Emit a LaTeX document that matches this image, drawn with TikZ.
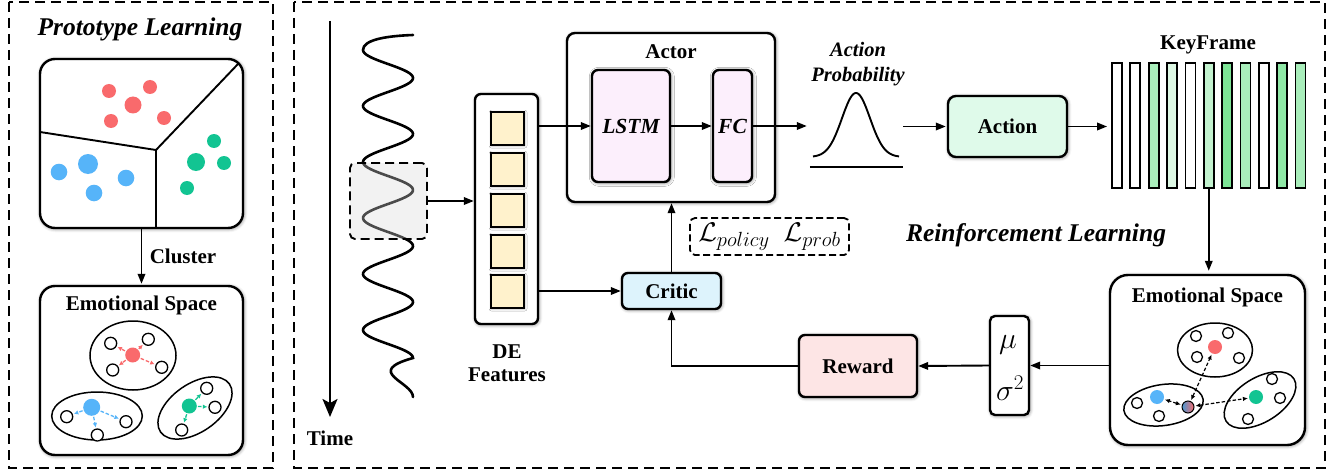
\RequirePackage{fix-cm}
\documentclass[tikz,border=0pt]{standalone}
\usepackage{fontspec}
\setmainfont{Liberation Serif}
\usetikzlibrary{arrows.meta,shadows.blur}
\DeclareMathSizes{27}{27}{20.5}{15}
\DeclareMathSizes{30}{30}{21}{15}

\definecolor{protoRed}{HTML}{F96A6C}
\definecolor{protoBlue}{HTML}{56B4F9}
\definecolor{protoGreen}{HTML}{12C492}
\definecolor{lstmFill}{HTML}{FCEFFC}
\definecolor{actionFill}{HTML}{DFFAEA}
\definecolor{criticFill}{HTML}{DDF3FC}
\definecolor{rewardFill}{HTML}{FDE5E5}
\definecolor{deFill}{HTML}{FFF2CC}
\definecolor{kfA}{HTML}{DDF8E4}
\definecolor{kfB}{HTML}{C3F3CF}
\definecolor{kfC}{HTML}{A9EEBB}
\definecolor{kfD}{HTML}{8FE8A6}
\definecolor{kfE}{HTML}{7DE596}

\begin{document}
\begin{tikzpicture}[x=1pt,y=-1pt,
  lbl/.style={font=\fontsize{21}{23}\selectfont\bfseries, inner sep=0pt},
  ttl/.style={font=\fontsize{25.5}{28}\selectfont\bfseries\itshape, inner sep=0pt},
  frame/.style={draw, line width=2pt, dash pattern=on 10pt off 6pt},
  card/.style={draw, line width=2.4pt, fill=white, rounded corners=#1, inner sep=0pt,
    blur shadow={shadow xshift=0.8pt, shadow yshift=-0.8pt, shadow blur radius=3.5pt, shadow opacity=55}},
  card/.default=8pt,
  flow/.style={line width=1.9pt, -{Triangle[length=10pt,width=7.5pt]}},
  cell/.style={draw, line width=2.3pt, fill=deFill, minimum size=33pt, inner sep=0pt,
    blur shadow={shadow xshift=0.6pt, shadow yshift=-0.6pt, shadow blur radius=2.5pt, shadow opacity=45}},
  bar/.style={draw, line width=1.8pt, minimum width=10pt, minimum height=125pt, inner sep=0pt, fill=#1},
  bar/.default=white,
  dot/.style={circle, fill=#1, draw=none, inner sep=0pt},
  hollow/.style={circle, draw, line width=1.3pt, fill=white, inner sep=0pt, minimum size=12pt},
  pull/.style={draw=#1, line width=1.3pt, dash pattern=on 3.5pt off 2pt,
    -{Latex[length=4.5pt,width=4.5pt,fill=#1]}, shorten <=1pt, shorten >=1pt},
  link/.style={line width=1.2pt, dash pattern=on 3.5pt off 2pt,
    {Latex[length=5pt,width=4.5pt]}-{Latex[length=5pt,width=4.5pt]}, shorten <=1pt, shorten >=1pt},
  shell/.style={line width=1.5pt}]

\useasboundingbox (0,0) rectangle (1340,476);

% panel frames
\draw[frame] (9,2) rectangle (273,468);
\draw[frame] (294,2) rectangle (1325,468);

% ---------------- Prototype learning ----------------
\node[ttl] (protoTitle) at (140,29) {Prototype Learning};
\node[card=15pt, minimum width=203pt, minimum height=169pt] (proto) at (141.5,143.5) {};
\draw[line width=1.9pt] (40,132) -- (156,150) -- (238,64);
\draw[line width=1.9pt] (156,150) -- (156,228);
\fill[protoRed] (109,91) circle[radius=7pt] (150,87) circle[radius=7pt]
  (133,105) circle[radius=8.5pt] (111,121) circle[radius=7pt] (164,118) circle[radius=7pt];
\fill[protoBlue] (59,172) circle[radius=8.3pt] (88,164) circle[radius=10pt]
  (126,178) circle[radius=8.3pt] (94,193) circle[radius=8.3pt];
\fill[protoGreen] (214,141) circle[radius=7pt] (196,162) circle[radius=9pt]
  (224,163) circle[radius=7pt] (187,188) circle[radius=7pt];

\node[card=15pt, minimum width=203pt, minimum height=169pt] (esL) at (141.5,370.5) {};
\draw[flow, shorten >=1pt] (proto.south) -- (esL.north);
\node[lbl] (cluster) at (183,256) {Cluster};
\node[lbl] (esLtitle) at (141.5,305) {Emotional Space};

% clusters of the learned emotional space
\draw[shell] (133,355.5) ellipse[x radius=43pt, y radius=34.5pt];
\draw[shell] (97,416) ellipse[x radius=45.3pt, y radius=24pt];
\draw[shell, rotate around={35:(195,408)}] (195,408) ellipse[x radius=42pt, y radius=24pt];

\node[dot=protoRed, minimum size=15pt] (lr) at (132.7,355) {};
\node[hollow] (lr1) at (110.7,343.3) {};
\node[hollow] (lr2) at (148.3,339.3) {};
\node[hollow] (lr3) at (112.7,370) {};
\node[hollow] (lr4) at (161.7,367.3) {};
\foreach \t in {lr1,lr2,lr3,lr4} \draw[pull=protoRed] (lr) -- (\t);

\node[dot=protoBlue, minimum size=17pt] (lb) at (91.7,407.3) {};
\node[hollow] (lb1) at (66.7,416.7) {};
\node[hollow] (lb2) at (126,421.7) {};
\node[hollow] (lb3) at (97.3,435) {};
\foreach \t in {lb1,lb2,lb3} \draw[pull=protoBlue] (lb) -- (\t);

\node[dot=protoGreen, minimum size=15pt] (lg) at (189.3,406) {};
\node[hollow] (lg1) at (206.7,388.3) {};
\node[hollow] (lg2) at (215,407.3) {};
\node[hollow] (lg3) at (181.7,430) {};
\foreach \t in {lg1,lg2,lg3} \draw[pull=protoGreen] (lg) -- (\t);

% ---------------- Reinforcement learning ----------------
\coordinate (tTop) at (330,21);
\coordinate (tEnd) at (330,417);
\draw[line width=2pt, -{Stealth[length=18pt,width=15pt,inset=4pt]}] (tTop) -- (tEnd);
\node[lbl] (time) at (330,438) {Time};

% signal (half period 28)
\draw[line width=2.6pt, line cap=round]
  (413,35) .. controls (385,36) and (363,40) .. (363,50)
  -- plot[domain=50:358, samples=200, variable=\t] ({388-25*cos(6.428571*(\t-50))}, \t)
  .. controls (363,372) and (413,382) .. (413,397);

% sliding window
\node[draw, dash pattern=on 9pt off 5pt, line width=1.9pt, rounded corners=5pt,
  fill=black!15, fill opacity=0.35, draw opacity=1,
  minimum width=77pt, minimum height=76pt, inner sep=0pt] (win) at (388.5,201) {};

% DE features
\node[card=6pt, minimum width=63pt, minimum height=230pt] (de) at (506.5,209) {};
\node[cell] (c1) at (507.5,128.5) {};
\node[cell] (c2) at (507.5,169.5) {};
\node[cell] (c3) at (507.5,210.5) {};
\node[cell] (c4) at (507.5,251.5) {};
\node[cell] (c5) at (507.5,291.5) {};
\node[lbl, align=center] (deLbl) at (507,363) {DE\\Features};
\draw[flow] (win.east) -- (de.west |- win.east);

% actor
\node[card=8pt, minimum width=208pt, minimum height=169pt] (actor) at (671,117.5) {};
\node[lbl] (actorTitle) at (671,52) {Actor};
\node[card=6pt, fill=lstmFill, minimum width=78pt, minimum height=112pt,
  font=\fontsize{21.5}{24}\selectfont\bfseries\itshape] (lstm) at (631,126) {LSTM};
\node[card=6pt, fill=lstmFill, minimum width=39pt, minimum height=112pt,
  font=\fontsize{21.5}{24}\selectfont\bfseries\itshape] (fc) at (732.5,126) {FC};
\draw[flow] (de.east |- lstm.west) -- (lstm.west);
\draw[flow] (lstm.east) -- (fc.west);

% action probability
\node[font=\fontsize{20.5}{25}\selectfont\bfseries\itshape, align=center, inner sep=0pt]
  (probLbl) at (858,64) {Action\\Probability};
\node[minimum width=93pt, minimum height=74pt, inner sep=0pt] (bell) at (856.5,130) {};
\draw[line width=1.9pt] plot[domain=813:899, samples=90, variable=\t]
  (\t, {157-64*exp(-((\t-856)/14)^2/2)});
\draw[line width=2pt] (bell.west |- 0,167) -- (bell.east |- 0,167);
\draw[flow, shorten >=3pt] (fc.east) -- (bell.west |- fc.east);

% action
\node[card=8pt, fill=actionFill, minimum width=119pt, minimum height=61pt, lbl] (action) at (1007.5,126.5) {Action};
\draw[flow, shorten >=1pt] (bell.east |- action.west) -- (action.west);

% key frames
\node[lbl] (kfTitle) at (1208,45) {KeyFrame};
\node[bar] (kf1) at (1117,125.5) {};
\node[bar] (kf2) at (1135.35,125.5) {};
\node[bar=kfC] (kf3) at (1153.7,125.5) {};
\node[bar=kfA] (kf4) at (1172.05,125.5) {};
\node[bar] (kf5) at (1190.4,125.5) {};
\node[bar=kfB] (kf6) at (1208.75,125.5) {};
\node[bar=kfE] (kf7) at (1227.1,125.5) {};
\node[bar=kfC] (kf8) at (1245.45,125.5) {};
\node[bar] (kf9) at (1263.8,125.5) {};
\node[bar=kfD] (kf10) at (1282.15,125.5) {};
\node[bar=kfC] (kf11) at (1300.5,125.5) {};
\draw[flow, shorten >=4pt] (action.east) -- (kf1.west |- action.east);

\node[ttl] (rlTitle) at (1036,235) {Reinforcement Learning};

% emotional space of the selected frames
\node[card=18pt, minimum width=195pt, minimum height=170pt] (esR) at (1207.5,360) {};
\draw[flow, shorten >=3pt] (kf6.south) -- (kf6.south |- esR.north);
\node[lbl] (esRtitle) at (1207.5,297) {Emotional Space};

\draw[shell] (1215,350) ellipse[x radius=37.5pt, y radius=27pt];
\draw[shell, rotate around={8:(1163.5,405)}] (1163.5,405) ellipse[x radius=40pt, y radius=20.5pt];
\draw[shell, rotate around={32:(1260,400)}] (1260,400) ellipse[x radius=40pt, y radius=22pt];

\node[dot=protoRed, minimum size=14pt] (rr) at (1215,347) {};
\node[hollow, minimum size=11pt] (rr1) at (1196,336) {};
\node[hollow, minimum size=11pt] (rr2) at (1228,333) {};
\node[hollow, minimum size=11pt] (rr3) at (1197,357) {};
\node[hollow, minimum size=11pt] (rr4) at (1239,358) {};

\node[dot=protoBlue, minimum size=14pt] (rb) at (1157,397) {};
\node[hollow, minimum size=11pt] (rb1) at (1137,403) {};
\node[hollow, minimum size=11pt] (rb2) at (1159,416) {};

\node[dot=protoGreen, minimum size=14pt] (rg) at (1256,397) {};
\node[hollow, minimum size=11pt] (rg1) at (1272,379) {};
\node[hollow, minimum size=11pt] (rg2) at (1280,398) {};
\node[hollow, minimum size=11pt] (rg3) at (1248,419) {};

\node[circle, draw, line width=1pt, inner sep=0pt, minimum size=12pt,
  left color=protoBlue!85!black, right color=protoRed] (rm) at (1188,407) {};
\draw[link] (rm) -- (rr);
\draw[link] (rm) -- (rb);
\draw[link] (rm) -- (rg);

% statistics
\node[card=5pt, minimum width=39pt, minimum height=99pt] (stats) at (1009.5,365.5) {};
\node[font=\fontsize{30}{32}\selectfont, inner sep=0pt] (mu) at (1008,345) {$\mu$};
\node[font=\fontsize{30}{32}\selectfont, inner sep=0pt] (sig) at (1010,388) {$\sigma^2$};
\draw[flow] (esR.west |- stats.east) -- (stats.east);

% reward and critic
\node[card=6pt, fill=rewardFill, minimum width=118pt, minimum height=62pt, lbl] (reward) at (858,366) {Reward};
\draw[flow] (stats.west) -- (reward.east);
\node[card=6pt, fill=criticFill, minimum width=99pt, minimum height=36pt, lbl] (critic) at (671.5,291) {Critic};
\draw[flow] (reward.west) -| (critic.south);
\draw[flow] (de.east |- critic.west) -- (critic.west);
\draw[flow] (critic.north) -- (critic.north |- actor.south);

% losses
\node[draw, dash pattern=on 7pt off 3.5pt, line width=1.8pt, rounded corners=5pt,
  minimum width=159pt, minimum height=37pt, inner sep=0pt,
  font=\fontsize{27}{29}\selectfont] (loss) at (769.5,236.5)
  {$\mathcal{L}_{policy}\hspace{14pt}\mathcal{L}_{prob}$};

\end{tikzpicture}
\end{document}
